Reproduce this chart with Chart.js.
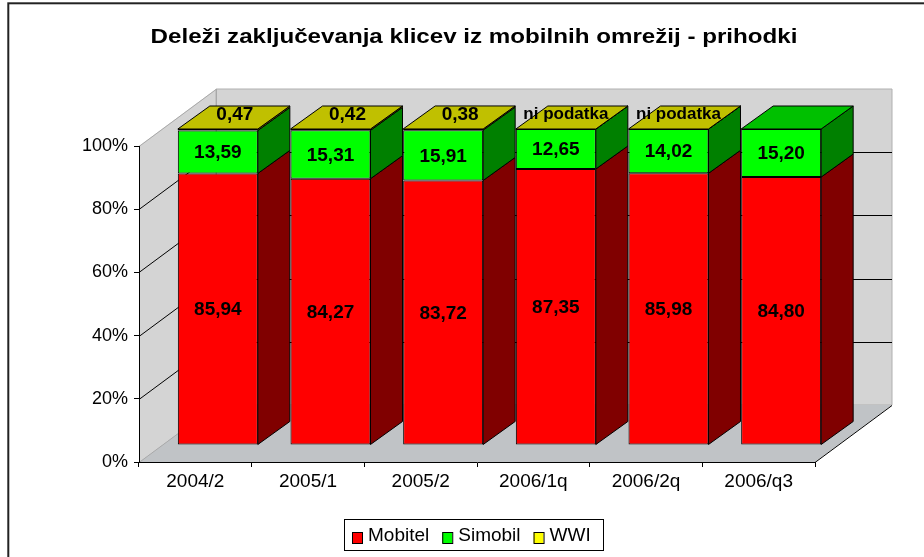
<!DOCTYPE html>
<html><head><meta charset="utf-8">
<script src="https://cdn.jsdelivr.net/npm/chart.js@4/dist/chart.umd.min.js"></script>
<style>html,body{margin:0;padding:0;background:#fff}canvas{display:block}</style>
</head><body>
<div style="width:924px;height:557px;position:relative"><canvas id="c" width="924" height="557"></canvas></div>
<script>
const categories = ['2004/2', '2005/1', '2005/2', '2006/1q', '2006/2q', '2006/q3'];
const mobitel = [85.94, 84.27, 83.72, 87.35, 85.98, 84.80];
const simobil = [13.59, 15.31, 15.91, 12.65, 14.02, 15.20];
const wwi = [0.47, 0.42, 0.38, 0, 0, null];
const wwiLabels = ['0,47', '0,42', '0,38', 'ni podatka', 'ni podatka', ''];
const seriesNames = ['Mobitel', 'Simobil', 'WWI'];
const yTicks = [0, 20, 40, 60, 80, 100];
const chartTitle = 'Deleži zaključevanja klicev iz mobilnih omrežij - prihodki';

const FONT = '"Liberation Sans", Arial, sans-serif';
const FRONT = ['#FF0000', '#00FF00', '#FFFF00'];
const SIDE = ['#800000', '#008000', '#808000'];
const TOP = ['#C00000', '#00C000', '#C0C000'];
const D = {x: 77, y: -57};   // wall depth
const B = {x: 32, y: -23};   // bar depth
const S = {x: (D.x - B.x) / 2, y: (D.y - B.y) / 2};

const fmt = v => v.toFixed(2).replace('.', ',');
const has = v => v !== null && v !== undefined;

function poly(ctx, pts, fill, stroke, lw) {
  ctx.beginPath();
  ctx.moveTo(pts[0][0], pts[0][1]);
  for (let i = 1; i < pts.length; i++) ctx.lineTo(pts[i][0], pts[i][1]);
  ctx.closePath();
  if (fill) { ctx.fillStyle = fill; ctx.fill(); }
  if (stroke) { ctx.strokeStyle = stroke; ctx.lineWidth = lw || 1; ctx.stroke(); }
}

const plugin3d = {
  id: 'plugin3d',
  beforeDraw(chart) {
    const ctx = chart.ctx, a = chart.chartArea, ys = chart.scales.y;
    const L = a.left, R = a.right, T = a.top, Bt = a.bottom;
    ctx.save();
    poly(ctx, [[L, Bt], [L, T], [L + D.x, T + D.y], [L + D.x, Bt + D.y]], '#D4D4D4', null);
    poly(ctx, [[L + D.x, T + D.y], [R + D.x, T + D.y], [R + D.x, Bt + D.y], [L + D.x, Bt + D.y]], '#D4D4D4', '#B0B0B0');
    poly(ctx, [[L, Bt], [R, Bt], [R + D.x, Bt + D.y], [L + D.x, Bt + D.y]], '#C0C3C6', null);
    ctx.lineWidth = 1;
    ctx.strokeStyle = '#000';
    ctx.beginPath(); ctx.moveTo(R, Bt + 0.5); ctx.lineTo(R + D.x, Bt + D.y + 0.5); ctx.stroke();
    yTicks.forEach(v => {
      const y = Math.round(ys.getPixelForValue(v)) + 0.5;
      const edge = (v === 0 || v === 100);
      ctx.strokeStyle = edge ? '#A8A8A8' : '#000';
      ctx.beginPath();
      ctx.moveTo(L, y); ctx.lineTo(L + D.x, y + D.y);
      if (!edge) ctx.lineTo(R + D.x, y + D.y);
      ctx.stroke();
    });
    ctx.strokeStyle = '#A8A8A8';
    ctx.beginPath(); ctx.moveTo(L + D.x + 0.5, T + D.y); ctx.lineTo(L + D.x + 0.5, Bt + D.y); ctx.stroke();
    ctx.restore();
  },
  beforeDatasetsDraw(chart) {
    chart.ctx.save();
    chart.ctx.translate(S.x, S.y);
  },
  afterDatasetsDraw(chart) {
    const ctx = chart.ctx;
    const n = chart.data.datasets.length;
    const topIdx = categories.map((c, i) => {
      let t = -1;
      for (let di = 0; di < n; di++) if (has(chart.data.datasets[di].data[i])) t = di;
      return t;
    });
    ctx.lineJoin = 'round';
    for (let di = 0; di < n; di++) {
      const meta = chart.getDatasetMeta(di);
      const data = chart.data.datasets[di].data;
      meta.data.forEach((el, i) => {
        if (!has(data[i]) || isNaN(el.y)) return;
        const w = el.width, l = el.x - w / 2, r = el.x + w / 2;
        const top = Math.min(el.y, el.base), bot = Math.max(el.y, el.base);
        poly(ctx, [[r, bot], [r, top], [r + B.x, top + B.y], [r + B.x, bot + B.y]], SIDE[di], '#000', 1);
        if (topIdx[i] === di)
          poly(ctx, [[l, top], [r, top], [r + B.x, top + B.y], [l + B.x, top + B.y]], TOP[di], '#000', 1);
      });
    }
    ctx.restore();
    ctx.save();
    ctx.fillStyle = '#000';
    ctx.textAlign = 'center';
    ctx.textBaseline = 'middle';
    ctx.font = 'bold 19px ' + FONT;
    [0, 1].forEach(di => {
      const meta = chart.getDatasetMeta(di);
      const data = chart.data.datasets[di].data;
      meta.data.forEach((el, i) => {
        ctx.fillText(fmt(data[i]), el.x + S.x, (el.y + el.base) / 2 + S.y + 1);
      });
    });
    const meta = chart.getDatasetMeta(2);
    meta.data.forEach((el, i) => {
      const t = wwiLabels[i];
      if (!t) return;
      const long = t.length > 5;
      ctx.font = (long ? 'bold 17px ' : 'bold 19px ') + FONT;
      const top = Math.min(el.y, el.base);
      ctx.fillText(t, el.x + S.x + (long ? 10 : 17), top + S.y + B.y / 2 - 3);
    });
    ctx.restore();
  },
  afterDraw(chart) {
    const ctx = chart.ctx;
    ctx.save();
    ctx.fillStyle = '#000';
    ctx.font = 'bold 21px ' + FONT;
    ctx.textAlign = 'center';
    ctx.textBaseline = 'alphabetic';
    ctx.save();
    ctx.translate(474, 43);
    ctx.scale(1.15, 1);
    ctx.fillText(chartTitle, 0, 0);
    ctx.restore();
    ctx.strokeStyle = '#000';
    ctx.lineWidth = 1;
    ctx.strokeRect(344.5, 519.5, 259, 31);
    ctx.font = '19px ' + FONT;
    ctx.textAlign = 'left';
    let x = 352;
    seriesNames.forEach((nm, i) => {
      ctx.fillStyle = FRONT[i];
      ctx.fillRect(x, 532, 10, 11);
      ctx.strokeRect(x + 0.5, 532.5, 10, 11);
      ctx.fillStyle = '#000';
      ctx.fillText(nm, x + 16, 541);
      x += 16 + ctx.measureText(nm).width + 13;
    });
    ctx.lineWidth = 2;
    ctx.strokeStyle = '#222';
    ctx.strokeRect(8.3, 3.3, 940, 600);
    ctx.restore();
  }
};

const datasets = [mobitel, simobil, wwi].map((d, i) => ({
  label: seriesNames[i],
  data: d,
  backgroundColor: FRONT[i],
  borderColor: '#000',
  borderWidth: 1,
  borderSkipped: false,
  barPercentage: 0.71,
  categoryPercentage: 1.0,
  clip: false
}));

new Chart(document.getElementById('c'), {
  type: 'bar',
  data: {labels: categories, datasets},
  options: {
    responsive: false,
    animation: false,
    devicePixelRatio: 1,
    layout: {padding: {left: 0, right: 109, top: 146, bottom: 0}},
    plugins: {legend: {display: false}, title: {display: false}, tooltip: {enabled: false}},
    scales: {
      x: {
        stacked: true,
        afterFit: s => { s.height = 95; },
        grid: {offset: true, drawOnChartArea: false, drawTicks: true, tickLength: 5, color: '#000'},
        border: {display: true, color: '#000', width: 1},
        ticks: {color: '#000', font: {family: FONT, size: 19}, padding: 3, maxRotation: 0}
      },
      y: {
        stacked: true,
        min: 0, max: 100,
        afterFit: s => { s.width = 139; },
        afterBuildTicks: s => { s.ticks = yTicks.map(v => ({value: v})); },
        grid: {drawOnChartArea: false, drawTicks: true, tickLength: 5, color: '#000'},
        border: {display: true, color: '#000', width: 1},
        ticks: {color: '#000', font: {family: FONT, size: 18}, padding: 6, callback: v => v + '%'}
      }
    }
  },
  plugins: [plugin3d]
});
</script>
</body></html>
